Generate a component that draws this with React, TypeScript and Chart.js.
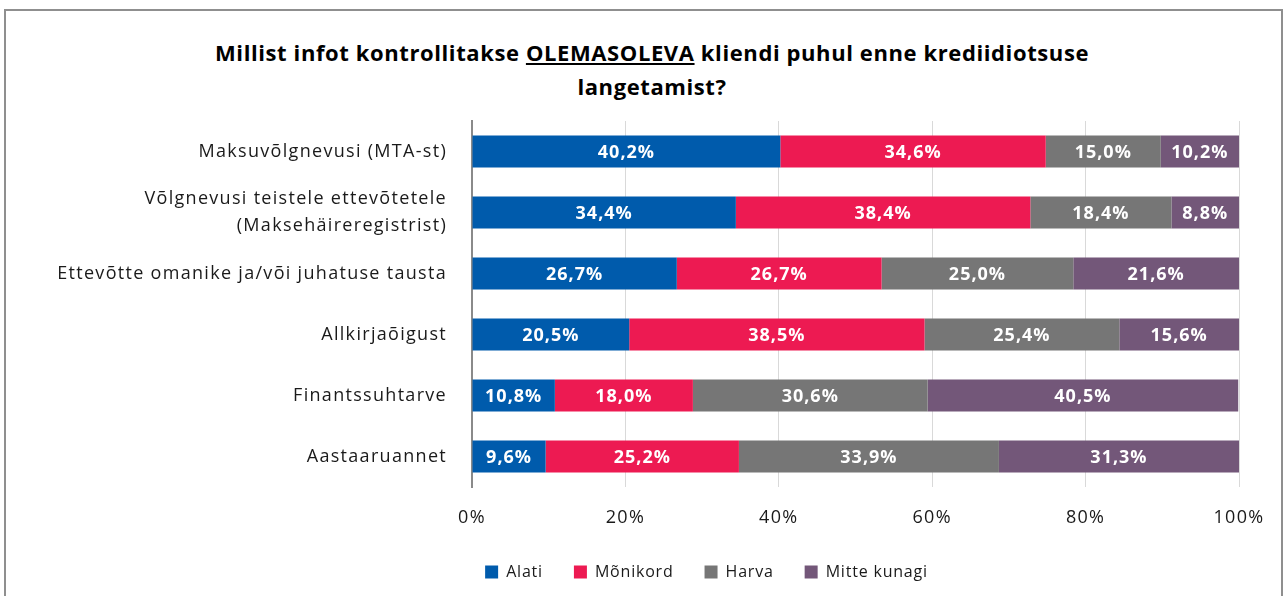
import React, { useEffect, useRef } from "react";
import { Chart, registerables } from "chart.js";

Chart.register(...registerables);

const categories: (string | string[])[] = [
  "Maksuvõlgnevusi (MTA-st)",
  ["Võlgnevusi teistele ettevõtetele", "(Maksehäireregistrist)"],
  "Ettevõtte omanike ja/või juhatuse tausta",
  "Allkirjaõigust",
  "Finantssuhtarve",
  "Aastaaruannet",
];
const seriesNames = ["Alati", "Mõnikord", "Harva", "Mitte kunagi"];
const alati = [40.2, 34.4, 26.7, 20.5, 10.8, 9.6];
const monikord = [34.6, 38.4, 26.7, 38.5, 18.0, 25.2];
const harva = [15.0, 18.4, 25.0, 25.4, 30.6, 33.9];
const mitteKunagi = [10.2, 8.8, 21.6, 15.6, 40.5, 31.3];
const xTickValues = [0, 20, 40, 60, 80, 100];
const seriesColors = ["#005BAC", "#ED1A52", "#767676", "#735779"];

const FONT = "'Open Sans', 'Liberation Sans', sans-serif";

const fmt = (v: number) => v.toFixed(1).replace(".", ",") + "%";

const LEGEND_SPACING = "0.8px";
const AXIS_SPACING = "1.3px";
const LEGEND_SHIFT = 87;

const layoutPlugin = {
  id: "layoutTweaks",
  beforeUpdate(chart: any) {
    chart.ctx.letterSpacing = LEGEND_SPACING;
  },
  afterLayout(chart: any) {
    const lg = chart.legend;
    if (lg) {
      lg.left += LEGEND_SHIFT;
      lg.right += LEGEND_SHIFT;
    }
  },
  beforeDraw(chart: any) {
    chart.ctx.letterSpacing = LEGEND_SPACING;
  },
};

const valueLabels = {
  id: "valueLabels",
  afterDatasetsDraw(chart: any) {
    const ctx = chart.ctx;
    ctx.save();
    ctx.letterSpacing = "1px";
    ctx.font = `bold 18px ${FONT}`;
    ctx.fillStyle = "#ffffff";
    ctx.textAlign = "center";
    ctx.textBaseline = "middle";
    chart.data.datasets.forEach((ds: any, i: number) => {
      const meta = chart.getDatasetMeta(i);
      meta.data.forEach((bar: any, j: number) => {
        const p = bar.getProps(["x", "base", "y"], true);
        ctx.fillText(fmt(ds.data[j]), (p.x + p.base) / 2, p.y + 1);
      });
    });
    ctx.restore();
    // spacing for axis tick labels, which are drawn after the datasets (ticks.z = 1)
    ctx.letterSpacing = AXIS_SPACING;
  },
};

export default function App() {
  const ref = useRef<HTMLCanvasElement | null>(null);

  useEffect(() => {
    if (!ref.current) return;
    const allSeries = [alati, monikord, harva, mitteKunagi];
    const chart = new Chart(ref.current, {
      type: "bar",
      data: {
        labels: categories,
        datasets: allSeries.map((d, i) => ({
          label: seriesNames[i],
          data: d,
          backgroundColor: seriesColors[i],
          borderWidth: 0,
          categoryPercentage: 1,
          barPercentage: 0.525,
        })),
      },
      options: {
        indexAxis: "y",
        responsive: false,
        animation: false,
        layout: { padding: { left: 0, right: 46, top: 121, bottom: 6 } },
        plugins: {
          title: { display: false },
          tooltip: { enabled: false },
          legend: {
            position: "bottom",
            labels: {
              boxWidth: 13,
              boxHeight: 13,
              padding: 31,
              color: "#1a1a1a",
              font: { family: FONT, size: 16 },
            },
          },
        },
        scales: {
          x: {
            stacked: true,
            min: 0,
            max: 100,
            afterBuildTicks: (scale: any) => {
              scale.ticks = xTickValues.map((v) => ({ value: v }));
            },
            afterFit: (scale: any) => {
              scale.height = 46;
            },
            grid: { color: "#d9d9d9", drawTicks: false, lineWidth: 1 },
            border: { display: false },
            ticks: {
              z: 1,
              padding: 20,
              color: "#1a1a1a",
              font: { family: FONT, size: 18 },
              callback: (v: any) => v + "%",
            },
          },
          y: {
            stacked: true,
            afterFit: (scale: any) => {
              scale.width = 472;
            },
            grid: { display: false, drawTicks: false },
            border: { display: true, color: "#8a8a8a", width: 2 },
            ticks: {
              z: 1,
              padding: 25,
              color: "#1a1a1a",
              font: { family: FONT, size: 18, lineHeight: 1.5 },
            },
          },
        },
      },
      plugins: [layoutPlugin, valueLabels],
    } as any);
    return () => chart.destroy();
  }, []);

  return (
    <div style={{ position: "fixed", left: 0, top: 0, width: 1285, height: 596, background: "#fff", overflow: "hidden" }}>
      <div
        style={{
          position: "absolute",
          left: 4,
          top: 9,
          width: 1279,
          height: 640,
          border: "2px solid #8f8f8f",
          boxSizing: "border-box",
        }}
      />
      <div
        style={{
          position: "absolute",
          left: 0,
          top: 35,
          width: 1304,
          textAlign: "center",
          fontFamily: FONT,
          fontWeight: 700,
          fontSize: 22,
          letterSpacing: "0.6px",
          lineHeight: "34px",
          color: "#000",
        }}
      >
        Millist infot kontrollitakse <u>OLEMASOLEVA</u> kliendi puhul enne krediidiotsuse
        <br />
        langetamist?
      </div>
      <canvas ref={ref} width={1285} height={596} style={{ position: "absolute", left: 0, top: 0, display: "block" }} />
    </div>
  );
}
